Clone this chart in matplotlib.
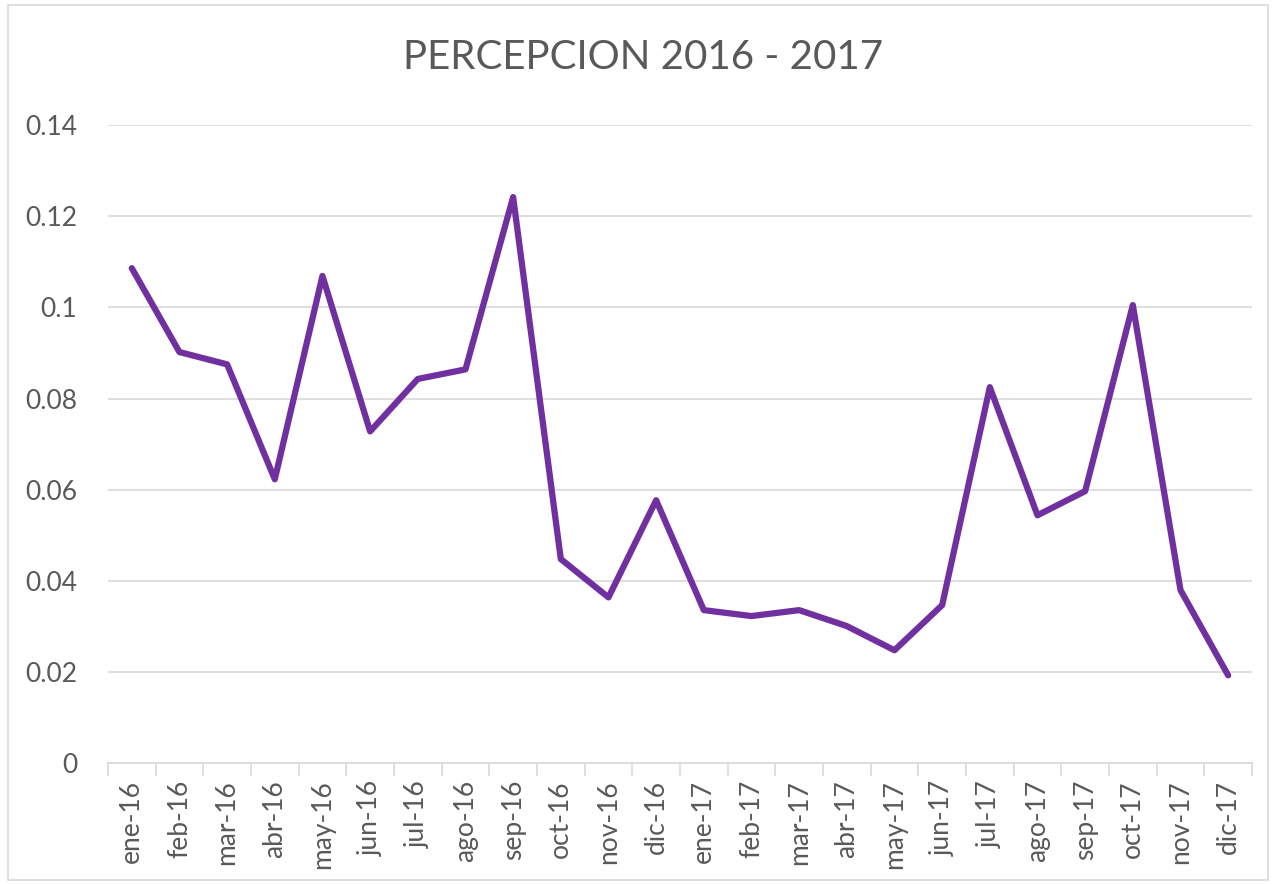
import matplotlib.pyplot as plt
from matplotlib.patches import Rectangle

# monthly values
months = ['ene-16', 'feb-16', 'mar-16', 'abr-16', 'may-16', 'jun-16', 'jul-16', 'ago-16',
          'sep-16', 'oct-16', 'nov-16', 'dic-16', 'ene-17', 'feb-17', 'mar-17', 'abr-17',
          'may-17', 'jun-17', 'jul-17', 'ago-17', 'sep-17', 'oct-17', 'nov-17', 'dic-17']
percepcion = [0.1086, 0.0902, 0.0875, 0.0623, 0.1069, 0.0728, 0.0843, 0.0864,
              0.1242, 0.0448, 0.0364, 0.0577, 0.0336, 0.0323, 0.0336, 0.0301,
              0.0248, 0.0347, 0.0825, 0.0544, 0.0597, 0.1005, 0.0380, 0.0193]
yticks = [0, 0.02, 0.04, 0.06, 0.08, 0.1, 0.12, 0.14]
ytick_labels = ['0', '0.02', '0.04', '0.06', '0.08', '0.1', '0.12', '0.14']

plt.rcParams['font.family'] = ['Lato', 'DejaVu Sans']
text_col = '#595959'
grid_col = '#d9d9d9'

fig = plt.figure(figsize=(12.73, 8.84), dpi=100)
ax = fig.add_axes([0.0848, 0.1365, 0.8987, 0.7221])

# outer chart border
fig.patches.append(Rectangle((0.006, 0.004), 0.99, 0.99, transform=fig.transFigure,
                             fill=False, edgecolor=grid_col, linewidth=1.2))

x = [i + 0.5 for i in range(len(months))]
ax.plot(x, percepcion, color='#7030a0', linewidth=4.5, solid_joinstyle='round',
        solid_capstyle='round', zorder=3)

ax.set_xlim(0, len(months))
ax.set_ylim(0, 0.14)
ax.set_yticks(yticks)
ax.set_yticklabels(ytick_labels)
ax.yaxis.grid(True, color=grid_col, linewidth=1.2)
ax.set_axisbelow(True)

ax.set_xticks(range(len(months) + 1))
ax.set_xticklabels([])
ax.set_xticks(x, minor=True)
ax.set_xticklabels(months, minor=True, rotation=90)
ax.tick_params(axis='x', which='major', length=9, width=1.2, color=grid_col)
ax.tick_params(axis='x', which='minor', length=0, pad=12, labelsize=19, labelcolor=text_col)
ax.tick_params(axis='y', length=0, pad=22, labelsize=19, labelcolor=text_col)

for side in ['top', 'right', 'left']:
    ax.spines[side].set_visible(False)
ax.spines['bottom'].set_color(grid_col)
ax.spines['bottom'].set_linewidth(1.2)

fig.text(0.505, 0.935, 'PERCEPCION 2016 - 2017', ha='center', va='center',
         fontsize=29, color=text_col)

fig.savefig('out.png', dpi=100)
